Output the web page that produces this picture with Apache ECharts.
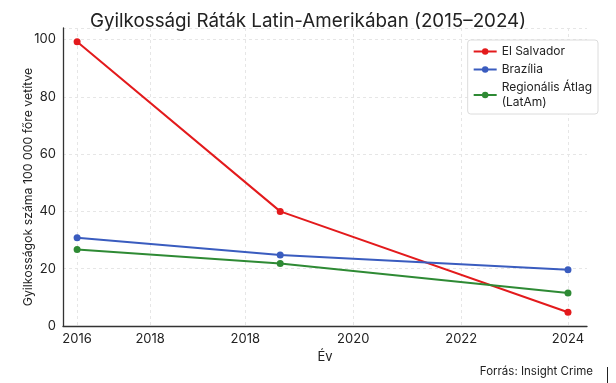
<!DOCTYPE html>
<html>
<head>
<meta charset="utf-8">
<script src="https://cdn.jsdelivr.net/npm/echarts@6/dist/echarts.min.js"></script>
<style>
html,body{margin:0;padding:0;background:#fff;}
#chart{width:616px;height:383px;}
</style>
</head>
<body>
<div id="chart"></div>
<script>
// x positions of the data points (in axis units)
var xPoints = [2016, 2019.31, 2024];
var elSalvador = [99.2, 40.0, 4.8];
var brazil = [30.8, 24.8, 19.6];
var latam = [26.7, 21.8, 11.5];
// tick positions and their printed labels (as shown in the reference)
var xTickValues = [2016, 2017.19, 2018.74, 2020.5, 2022.26, 2024];
var xTickLabels = ['2016', '2018', '2018', '2020', '2022', '2024'];
var yTicks = [0, 20, 40, 60, 80, 100];

var FONT = 'Inter, "Noto Sans", sans-serif';
function pairs(vals) { return xPoints.map(function (x, i) { return [x, vals[i]]; }); }
var labelMap = {};
xTickValues.forEach(function (v, i) { labelMap[v] = xTickLabels[i]; });

var chart = echarts.init(document.getElementById('chart'), null, { renderer: 'canvas' });
chart.setOption({
  animation: false,
  backgroundColor: '#fff',
  textStyle: { fontFamily: FONT },
  title: {
    text: 'Gyilkossági Ráták Latin-Amerikában (2015–2024)',
    left: 'center', top: 7,
    textStyle: { fontFamily: FONT, fontSize: 18.8, fontWeight: 'normal', color: '#222' }
  },
  legend: {
    orient: 'vertical', right: 18, top: 40,
    backgroundColor: '#fff', borderColor: '#dcdcdc', borderWidth: 1, borderRadius: 3,
    padding: [4, 6, 4, 5], itemGap: 3, itemWidth: 23, itemHeight: 8,
    textStyle: { fontFamily: FONT, fontSize: 12, color: '#222', lineHeight: 15 },
    data: ['El Salvador', 'Brazília', 'Regionális Átlag\n(LatAm)']
  },
  grid: { left: 63, right: 29, top: 28, bottom: 57, containLabel: false },
  xAxis: {
    type: 'value', min: 2015.77, max: 2024.31,
    name: 'Év', nameLocation: 'middle', nameGap: 22,
    nameTextStyle: { fontFamily: FONT, fontSize: 13, color: '#222' },
    axisLine: { show: true, lineStyle: { color: '#333', width: 1.3 } },
    axisTick: { show: false, customValues: xTickValues },
    axisLabel: {
      customValues: xTickValues, fontFamily: FONT, fontSize: 13, color: '#222', margin: 7,
      formatter: function (v) { return labelMap[v] !== undefined ? labelMap[v] : ''; }
    },
    splitLine: { show: true, lineStyle: { color: '#e6e6e6', type: [3, 3], width: 1 } }
  },
  yAxis: {
    type: 'value', min: 0, max: 104, interval: 20,
    axisLine: { show: true, lineStyle: { color: '#333', width: 1.3 } },
    axisTick: { show: false },
    axisLabel: {
      customValues: yTicks, fontFamily: FONT, fontSize: 13, color: '#222', margin: 7
    },
    splitLine: { show: true, lineStyle: { color: '#e6e6e6', type: [3, 3], width: 1 } }
  },
  series: [
    { name: 'El Salvador', type: 'line', data: pairs(elSalvador), color: '#e31a1c',
      symbol: 'circle', symbolSize: 7, lineStyle: { width: 2 } },
    { name: 'Brazília', type: 'line', data: pairs(brazil), color: '#3a5cbf',
      symbol: 'circle', symbolSize: 7, lineStyle: { width: 2 } },
    { name: 'Regionális Átlag\n(LatAm)', type: 'line', data: pairs(latam), color: '#2e8a34',
      symbol: 'circle', symbolSize: 7, lineStyle: { width: 2 } }
  ],
  graphic: [
    { type: 'text', x: 28, y: 187, rotation: Math.PI / 2,
      style: { text: 'Gyilkosságok száma 100 000 főre vetítve', fontFamily: FONT, fontSize: 12.3,
        fill: '#222', align: 'center', verticalAlign: 'middle' } },
    { type: 'text', right: 23, top: 366,
      style: { text: 'Forrás: Insight Crime', fontFamily: FONT, fontSize: 11.5, fill: '#222' } },
    { type: 'line', shape: { x1: 607.5, y1: 367, x2: 607.5, y2: 383 },
      style: { stroke: '#222', lineWidth: 1 } }
  ]
});
</script>
</body>
</html>
